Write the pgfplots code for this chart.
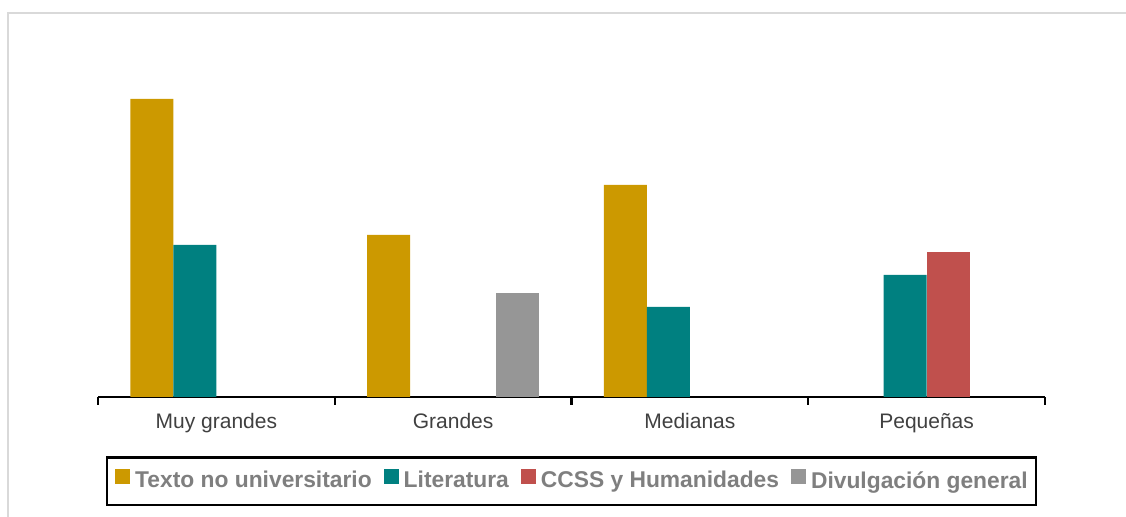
\documentclass[border=0pt]{standalone}
\usepackage{pgfplots}
\pgfplotsset{compat=1.18}
\usepackage{fontspec}
\setmainfont{Liberation Sans}
\definecolor{oro}{HTML}{CC9900}
\definecolor{verde}{HTML}{008080}
\definecolor{rojo}{HTML}{C0504D}
\definecolor{gris}{HTML}{969696}
\definecolor{texto}{HTML}{404040}
\definecolor{leyenda}{HTML}{7F7F7F}
\definecolor{marco}{HTML}{D9D9D9}

\begin{document}
\begin{tikzpicture}
\useasboundingbox (0,0) rectangle (563pt,258.5pt);
\clip (0,0) rectangle (563pt,258.5pt);
% marco exterior (gris claro)
\draw[marco, line width=1pt] (3.75pt,-5pt) -- (3.75pt,251.75pt) -- (570pt,251.75pt);
\begin{axis}[
    at={(49pt,60pt)}, anchor=south west,
    scale only axis, width=473.5pt, height=175pt,
    xmin=-0.5, xmax=3.5, ymin=0, ymax=350,
    axis x line*=bottom, axis y line=none,
    axis line style={black, line width=1.1pt},
    ybar=0pt, bar width=21.5pt,
    xtick={0,1,2,3},
    xticklabels={Muy grandes,Grandes,Medianas,Pequeñas},
    major tick length=0pt,
    minor xtick={-0.5,0.5,1.5,2.5,3.5},
    minor tick length=4pt, tick align=outside,
    tick style={black, line width=1.1pt},
    xticklabel style={font=\fontsize{10.5}{12}\selectfont, text=texto, yshift=-4.5pt},
    legend style={at={(0.5,-0.169)}, anchor=north,
        draw=black, line width=1.2pt,
        font=\bfseries\fontsize{11.4}{13}\selectfont, text=leyenda,
        inner xsep=4pt, inner ysep=5pt,
        nodes={inner xsep=0pt, inner ysep=2pt},
        /tikz/every odd column/.append style={column sep=2.5pt},
        /tikz/every even column/.append style={column sep=6pt}},
    legend columns=-1,
    legend image code/.code={\fill[#1] (0pt,-1.6pt) rectangle (7.5pt,5.9pt);},
]
\addplot[fill=oro, draw=none] coordinates {(0,298) (1,162) (2,212)};
\addplot[fill=verde, draw=none] coordinates {(0,152) (2,90) (3,122)};
\addplot[fill=rojo, draw=none] coordinates {(3,145)};
\addplot[fill=gris, draw=none] coordinates {(1,104)};
\legend{Texto no universitario, Literatura, CCSS y Humanidades, Divulgación general}
\end{axis}
\end{tikzpicture}
\end{document}
